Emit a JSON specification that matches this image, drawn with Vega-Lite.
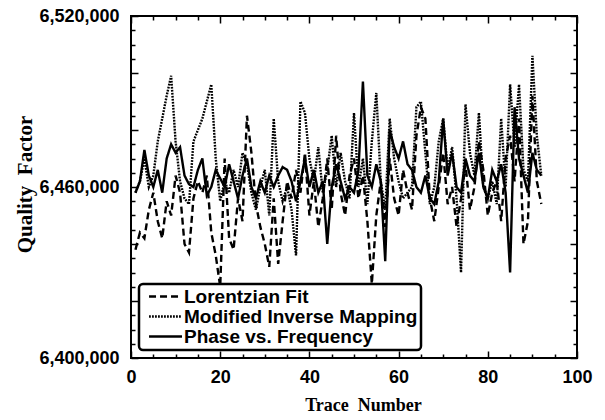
{
  "$schema": "https://vega.github.io/schema/vega-lite/v6.json",
  "width": 446,
  "height": 342,
  "autosize": "none",
  "padding": {"left": 131, "top": 16, "right": 28, "bottom": 62},
  "background": "white",
  "config": {
    "view": {"stroke": "black", "strokeWidth": 2},
    "axis": {
      "domain": false,
      "grid": false,
      "tickColor": "black",
      "tickWidth": 1.5,
      "labelFont": "Liberation Sans",
      "labelFontWeight": "bold",
      "labelFontSize": 18,
      "labelColor": "black",
      "labelOverlap": false,
      "labelFlush": false,
      "titleFont": "Liberation Serif",
      "titleFontWeight": "bold",
      "titleColor": "black"
    }
  },
  "data": {
    "values": [
      {"t": 1, "L": 6438000, "M": 6458000, "P": 6458000},
      {"t": 2, "L": 6444000, "M": 6462000, "P": 6462000},
      {"t": 3, "L": 6442000, "M": 6470000, "P": 6473000},
      {"t": 4, "L": 6452000, "M": 6460000, "P": 6464000},
      {"t": 5, "L": 6458000, "M": 6464000, "P": 6460000},
      {"t": 6, "L": 6448000, "M": 6476000, "P": 6466000},
      {"t": 7, "L": 6442000, "M": 6484000, "P": 6458000},
      {"t": 8, "L": 6455000, "M": 6492000, "P": 6470000},
      {"t": 9, "L": 6450000, "M": 6499000, "P": 6475000},
      {"t": 10, "L": 6464000, "M": 6476000, "P": 6472000},
      {"t": 11, "L": 6458000, "M": 6462000, "P": 6474000},
      {"t": 12, "L": 6440000, "M": 6456000, "P": 6464000},
      {"t": 13, "L": 6437000, "M": 6454000, "P": 6461000},
      {"t": 14, "L": 6456000, "M": 6476000, "P": 6460000},
      {"t": 15, "L": 6462000, "M": 6480000, "P": 6466000},
      {"t": 16, "L": 6458000, "M": 6484000, "P": 6470000},
      {"t": 17, "L": 6464000, "M": 6490000, "P": 6457000},
      {"t": 18, "L": 6444000, "M": 6496000, "P": 6460000},
      {"t": 19, "L": 6436000, "M": 6470000, "P": 6466000},
      {"t": 20, "L": 6425000, "M": 6455000, "P": 6463000},
      {"t": 21, "L": 6470000, "M": 6462000, "P": 6460000},
      {"t": 22, "L": 6442000, "M": 6458000, "P": 6468000},
      {"t": 23, "L": 6438000, "M": 6466000, "P": 6462000},
      {"t": 24, "L": 6456000, "M": 6460000, "P": 6456000},
      {"t": 25, "L": 6448000, "M": 6472000, "P": 6464000},
      {"t": 26, "L": 6485000, "M": 6468000, "P": 6470000},
      {"t": 27, "L": 6472000, "M": 6458000, "P": 6460000},
      {"t": 28, "L": 6454000, "M": 6452000, "P": 6456000},
      {"t": 29, "L": 6446000, "M": 6460000, "P": 6462000},
      {"t": 30, "L": 6440000, "M": 6466000, "P": 6458000},
      {"t": 31, "L": 6432000, "M": 6450000, "P": 6464000},
      {"t": 32, "L": 6456000, "M": 6484000, "P": 6460000},
      {"t": 33, "L": 6433000, "M": 6462000, "P": 6464000},
      {"t": 34, "L": 6448000, "M": 6455000, "P": 6467000},
      {"t": 35, "L": 6462000, "M": 6460000, "P": 6466000},
      {"t": 36, "L": 6456000, "M": 6452000, "P": 6462000},
      {"t": 37, "L": 6466000, "M": 6436000, "P": 6455000},
      {"t": 38, "L": 6458000, "M": 6490000, "P": 6462000},
      {"t": 39, "L": 6472000, "M": 6486000, "P": 6470000},
      {"t": 40, "L": 6450000, "M": 6470000, "P": 6460000},
      {"t": 41, "L": 6462000, "M": 6462000, "P": 6466000},
      {"t": 42, "L": 6446000, "M": 6474000, "P": 6458000},
      {"t": 43, "L": 6456000, "M": 6458000, "P": 6462000},
      {"t": 44, "L": 6470000, "M": 6466000, "P": 6440000},
      {"t": 45, "L": 6452000, "M": 6478000, "P": 6460000},
      {"t": 46, "L": 6478000, "M": 6460000, "P": 6468000},
      {"t": 47, "L": 6458000, "M": 6472000, "P": 6462000},
      {"t": 48, "L": 6450000, "M": 6462000, "P": 6456000},
      {"t": 49, "L": 6464000, "M": 6456000, "P": 6460000},
      {"t": 50, "L": 6470000, "M": 6486000, "P": 6458000},
      {"t": 51, "L": 6456000, "M": 6460000, "P": 6466000},
      {"t": 52, "L": 6464000, "M": 6470000, "P": 6497000},
      {"t": 53, "L": 6448000, "M": 6454000, "P": 6464000},
      {"t": 54, "L": 6426000, "M": 6476000, "P": 6460000},
      {"t": 55, "L": 6450000, "M": 6493000, "P": 6468000},
      {"t": 56, "L": 6462000, "M": 6462000, "P": 6462000},
      {"t": 57, "L": 6446000, "M": 6452000, "P": 6434000},
      {"t": 58, "L": 6470000, "M": 6484000, "P": 6480000},
      {"t": 59, "L": 6456000, "M": 6470000, "P": 6474000},
      {"t": 60, "L": 6450000, "M": 6462000, "P": 6470000},
      {"t": 61, "L": 6466000, "M": 6456000, "P": 6476000},
      {"t": 62, "L": 6458000, "M": 6458000, "P": 6468000},
      {"t": 63, "L": 6452000, "M": 6460000, "P": 6466000},
      {"t": 64, "L": 6478000, "M": 6488000, "P": 6460000},
      {"t": 65, "L": 6488000, "M": 6490000, "P": 6458000},
      {"t": 66, "L": 6484000, "M": 6472000, "P": 6464000},
      {"t": 67, "L": 6456000, "M": 6454000, "P": 6456000},
      {"t": 68, "L": 6448000, "M": 6460000, "P": 6454000},
      {"t": 69, "L": 6460000, "M": 6476000, "P": 6462000},
      {"t": 70, "L": 6472000, "M": 6484000, "P": 6484000},
      {"t": 71, "L": 6454000, "M": 6466000, "P": 6464000},
      {"t": 72, "L": 6460000, "M": 6474000, "P": 6472000},
      {"t": 73, "L": 6446000, "M": 6456000, "P": 6460000},
      {"t": 74, "L": 6456000, "M": 6430000, "P": 6458000},
      {"t": 75, "L": 6468000, "M": 6489000, "P": 6470000},
      {"t": 76, "L": 6452000, "M": 6472000, "P": 6464000},
      {"t": 77, "L": 6460000, "M": 6464000, "P": 6462000},
      {"t": 78, "L": 6476000, "M": 6486000, "P": 6472000},
      {"t": 79, "L": 6466000, "M": 6460000, "P": 6460000},
      {"t": 80, "L": 6450000, "M": 6456000, "P": 6456000},
      {"t": 81, "L": 6458000, "M": 6462000, "P": 6466000},
      {"t": 82, "L": 6462000, "M": 6454000, "P": 6462000},
      {"t": 83, "L": 6448000, "M": 6484000, "P": 6468000},
      {"t": 84, "L": 6470000, "M": 6460000, "P": 6458000},
      {"t": 85, "L": 6478000, "M": 6496000, "P": 6430000},
      {"t": 86, "L": 6462000, "M": 6474000, "P": 6488000},
      {"t": 87, "L": 6484000, "M": 6496000, "P": 6470000},
      {"t": 88, "L": 6440000, "M": 6466000, "P": 6464000},
      {"t": 89, "L": 6448000, "M": 6462000, "P": 6458000},
      {"t": 90, "L": 6492000, "M": 6506000, "P": 6472000},
      {"t": 91, "L": 6462000, "M": 6478000, "P": 6466000},
      {"t": 92, "L": 6454000, "M": 6464000, "P": 6464000}
    ]
  },
  "transform": [{"fold": ["L", "M", "P"], "as": ["series", "q"]}],
  "layer": [
    {
      "mark": {"type": "line", "color": "black", "strokeWidth": 2.4, "strokeCap": "butt"},
      "encoding": {
        "x": {
          "field": "t", "type": "quantitative",
          "scale": {"domain": [0, 100], "nice": false, "zero": false},
          "axis": {
            "orient": "bottom",
            "values": [0,5,10,15,20,25,30,35,40,45,50,55,60,65,70,75,80,85,90,95,100],
            "tickSize": {"condition": {"test": "datum.value % 20 === 0", "value": -7}, "value": -4},
            "labelExpr": "datum.value % 20 === 0 ? datum.label : ''",
            "labelPadding": 17,
            "title": "Trace\u00a0 Number",
            "titleFontSize": 18,
            "titleX": 232,
            "titleY": 47,
            "titleBaseline": "middle",
            "titleAnchor": "middle"
          }
        },
        "y": {
          "field": "q", "type": "quantitative",
          "scale": {"domain": [6400000, 6520000], "nice": false, "zero": false},
          "axis": {
            "orient": "left",
            "values": [6400000,6405000,6410000,6415000,6420000,6425000,6430000,6435000,6440000,6445000,6450000,6455000,6460000,6465000,6470000,6475000,6480000,6485000,6490000,6495000,6500000,6505000,6510000,6515000,6520000],
            "format": ",d",
            "tickSize": {"condition": {"test": "datum.value % 20000 === 0", "value": -7}, "value": -4},
            "labelExpr": "(datum.value == 6400000 || datum.value == 6460000 || datum.value == 6520000) ? datum.label : ''",
            "labelPadding": 19,
            "title": "Quality\u00a0\u00a0Factor",
            "titleFontSize": 21,
            "titleX": -106,
            "titleY": 168,
            "titleAngle": 270,
            "titleBaseline": "middle",
            "titleAnchor": "middle"
          }
        },
        "strokeDash": {
          "field": "series", "type": "nominal",
          "scale": {"domain": ["L", "M", "P"], "range": [[7, 4], [1.8, 1.2], [1, 0]]},
          "legend": {
            "orient": "bottom-left",
            "offset": 8,
            "title": null,
            "symbolType": "M-2.06,0H2.06",
            "symbolSize": 256,
            "symbolOffset": 14,
            "symbolStrokeWidth": 2.5,
            "symbolStrokeColor": "black",
            "labelFont": "Liberation Sans",
            "labelFontWeight": "bold",
            "labelFontSize": 19,
            "labelColor": "black",
            "labelOffset": 9,
            "labelLimit": 400,
            "rowPadding": 0,
            "padding": 3,
            "strokeColor": "black",
            "fillColor": "white",
            "cornerRadius": 4,
            "labelExpr": "datum.label == 'L' ? 'Lorentzian Fit' : datum.label == 'M' ? 'Modified Inverse Mapping' : 'Phase vs. Frequency'",
            "encode": {"legend": {"update": {"strokeWidth": {"value": 2.5}}}}
          }
        }
      }
    },
    {
      "mark": {"type": "line", "opacity": 0},
      "encoding": {
        "x": {
          "field": "t", "type": "quantitative",
          "axis": {
            "orient": "top",
            "values": [0,5,10,15,20,25,30,35,40,45,50,55,60,65,70,75,80,85,90,95,100],
            "tickSize": {"condition": {"test": "datum.value % 20 === 0", "value": -7}, "value": -4},
            "labels": false,
            "title": null
          }
        },
        "y": {
          "field": "q", "type": "quantitative",
          "axis": {
            "orient": "right",
            "values": [6400000,6405000,6410000,6415000,6420000,6425000,6430000,6435000,6440000,6445000,6450000,6455000,6460000,6465000,6470000,6475000,6480000,6485000,6490000,6495000,6500000,6505000,6510000,6515000,6520000],
            "tickSize": {"condition": {"test": "datum.value % 20000 === 0", "value": -7}, "value": -4},
            "labels": false,
            "title": null
          }
        },
        "detail": {"field": "series", "type": "nominal"}
      }
    }
  ],
  "resolve": {"axis": {"x": "independent", "y": "independent"}}
}
